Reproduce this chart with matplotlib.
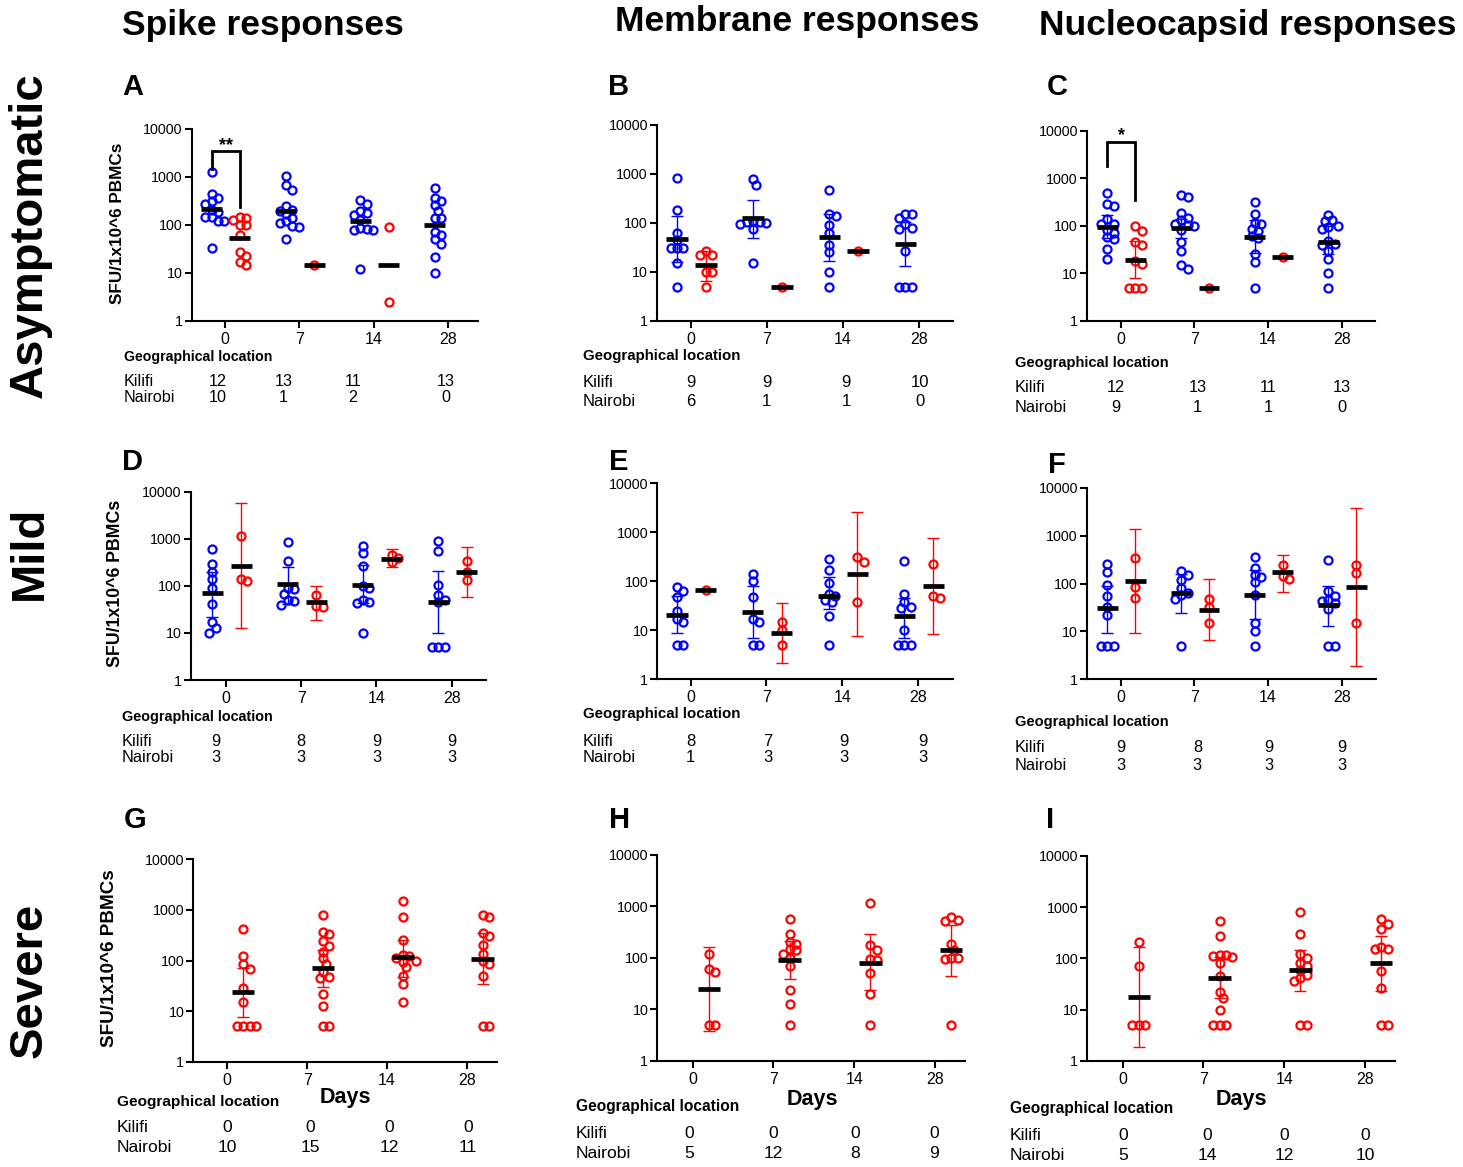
import numpy as np
import matplotlib
matplotlib.use('Agg')
import matplotlib.pyplot as plt
from matplotlib.transforms import blended_transform_factory
from matplotlib.ticker import FixedLocator, FixedFormatter, NullLocator

plt.rcParams['font.family'] = ['Liberation Sans', 'DejaVu Sans']

W, H = 1463, 1167
BLUE = '#0000ff'
RED = '#ff0000'

days = ['0', '7', '14', '28']
ytick_vals = [1, 10, 100, 1000, 10000]
ytick_labels = ['1', '10', '100', '1000', '10000']
col_titles = ['Spike responses', 'Membrane responses', 'Nucleocapsid responses']
row_titles = ['Asymptomatic', 'Mild', 'Severe']
panel_letters = ['A', 'B', 'C', 'D', 'E', 'F', 'G', 'H', 'I']
ylabel_text = 'SFU/1x10^6 PBMCs'
N = np.nan

# ---------------- data (SFU / 1x10^6 PBMCs) ----------------
# A: Spike, asymptomatic
A_kilifi = [[1300, 440, 360, 310, 270, 210, 190, 150, 145, 120, 120, 33],
            [1050, 670, 540, 250, 210, 200, 170, 140, 120, 110, 95, 92, 52],
            [330, 270, 200, 180, 160, 125, 85, 82, 80, 80, 12],
            [580, 360, 320, 260, 195, 140, 140, 70, 63, 50, 40, 22, 10]]
A_nairobi = [[150, 140, 130, 100, 100, 62, 27, 23, 17, 15], [15], [92, 2.5], []]
A_kilifi_mean = [215, 195, 121, 100]
A_nairobi_mean = [54, 15, 15, N]
A_kilifi_err = [None, None, None, None]
A_nairobi_err = [None, None, None, None]
A_kilifi_n = [12, 13, 11, 13]
A_nairobi_n = [10, 1, 2, 0]

# B: Membrane, asymptomatic
B_kilifi = [[820, 180, 62, 45, 30, 30, 30, 15, 5],
            [800, 600, 110, 105, 105, 100, 95, 75, 15],
            [480, 155, 135, 90, 62, 35, 25, 10, 5],
            [155, 155, 125, 95, 78, 75, 27, 5, 5, 5]]
B_nairobi = [[27, 22, 22, 10, 10, 5], [5], [27], []]
B_kilifi_mean = [47, 124, 52, 37]
B_nairobi_mean = [13.7, 5, 27, N]
B_kilifi_err = [(16, 138), (50, 300), (17, 152), (13, 106)]
B_nairobi_err = [(6.6, 27), None, None, None]
B_kilifi_n = [9, 9, 9, 10]
B_nairobi_n = [6, 1, 1, 0]

# C: Nucleocapsid, asymptomatic
C_kilifi = [[500, 290, 260, 140, 110, 110, 80, 72, 57, 52, 32, 20],
            [450, 400, 185, 145, 130, 110, 105, 100, 80, 45, 30, 15, 12.5],
            [320, 180, 115, 110, 85, 78, 60, 55, 25, 17, 5],
            [170, 130, 125, 100, 95, 85, 48, 42, 40, 30, 20, 10, 5]]
C_nairobi = [[100, 78, 45, 40, 18, 16, 5, 5, 5], [5], [22], []]
C_kilifi_mean = [96, 88, 59, 46]
C_nairobi_mean = [19, 5, 22, N]
C_kilifi_err = [(55, 166), (55, 140), (27, 133), (25, 99)]
C_nairobi_err = [(7.9, 48), None, None, None]
C_kilifi_n = [12, 13, 11, 13]
C_nairobi_n = [9, 1, 1, 0]

# D: Spike, mild
D_kilifi = [[600, 290, 200, 140, 88, 42, 17, 12.5, 10],
            [870, 340, 90, 85, 68, 50, 48, 40],
            [700, 490, 260, 100, 90, 50, 45, 44, 10],
            [900, 550, 105, 65, 50, 45, 5, 5, 5]]
D_nairobi = [[1150, 140, 125], [64, 37, 36], [450, 400, 325], [340, 200, 135]]
D_kilifi_mean = [69, 108, 104, 46]
D_nairobi_mean = [268, 46, 380, 200]
D_kilifi_err = [(22, 200), (42, 255), (44, 275), (10, 210)]
D_nairobi_err = [(12.5, 5800), (19, 100), (250, 600), (59, 660)]
D_kilifi_n = [9, 8, 9, 9]
D_nairobi_n = [3, 3, 3, 3]

# E: Membrane, mild
E_kilifi = [[78, 62, 47, 25, 17, 15, 5, 5],
            [140, 100, 47, 17, 15, 5, 5],
            [280, 170, 92, 55, 50, 42, 37, 20, 5],
            [260, 55, 38, 30, 29, 10, 5, 5, 5]]
E_nairobi = [[67], [15, 10, 5], [310, 250, 37], [225, 49, 45]]
E_kilifi_mean = [21, 24, 50, 20]
E_nairobi_mean = [67, 9, 141, 80]
E_kilifi_err = [(8.7, 50), (6.9, 81), (27, 120), (7.1, 46)]
E_nairobi_err = [None, (2.2, 36), (7.8, 2550), (8.3, 755)]
E_kilifi_n = [8, 7, 9, 9]
E_nairobi_n = [1, 3, 3, 3]

# F: Nucleocapsid, mild
F_kilifi = [[250, 170, 95, 55, 33, 22, 5, 5, 5],
            [185, 150, 120, 80, 63, 58, 47, 5],
            [360, 215, 150, 140, 105, 58, 15, 10, 5],
            [310, 70, 55, 45, 43, 40, 30, 5, 5]]
F_nairobi = [[340, 83, 50], [47, 32, 15], [245, 145, 125], [245, 165, 15]]
F_kilifi_mean = [30.6, 63, 58, 35]
F_nairobi_mean = [114, 28, 171, 84]
F_kilifi_err = [(9.2, 90), (24, 158), (18.5, 195), (13, 90)]
F_nairobi_err = [(9.2, 1350), (6.7, 124), (66, 400), (1.93, 3700)]
F_kilifi_n = [9, 8, 9, 9]
F_nairobi_n = [3, 3, 3, 3]

# G: Spike, severe
G_kilifi = [[], [], [], []]
G_nairobi = [[415, 120, 85, 68, 28, 15, 5, 5, 5, 5],
             [800, 370, 340, 240, 195, 150, 110, 85, 58, 48, 45, 22, 12.5, 5, 5],
             [1500, 740, 250, 130, 120, 110, 100, 95, 73, 50, 34, 15],
             [800, 740, 350, 310, 200, 135, 100, 85, 50, 5, 5]]
G_kilifi_mean = [N, N, N, N]
G_nairobi_mean = [24, 72, 116, 107]
G_kilifi_err = [None, None, None, None]
G_nairobi_err = [(7.5, 70), (30, 162), (48, 260), (34, 350)]
G_kilifi_n = [0, 0, 0, 0]
G_nairobi_n = [10, 15, 12, 11]

# H: Membrane, severe
H_kilifi = [[], [], [], []]
H_nairobi = [[117, 62, 52, 5, 5],
             [580, 290, 200, 190, 150, 140, 120, 100, 70, 24, 12.5, 5],
             [1180, 180, 145, 95, 90, 50, 20, 5],
             [620, 550, 510, 185, 140, 100, 100, 95, 5]]
H_kilifi_mean = [N, N, N, N]
H_nairobi_mean = [24.8, 90, 78, 142]
H_kilifi_err = [None, None, None, None]
H_nairobi_err = [(3.8, 160), (38, 212), (24, 290), (44, 440)]
H_kilifi_n = [0, 0, 0, 0]
H_nairobi_n = [5, 12, 8, 9]

# I: Nucleocapsid, severe
I_kilifi = [[], [], [], []]
I_nairobi = [[210, 72, 5, 5, 5],
             [540, 270, 115, 115, 110, 105, 80, 45, 22, 17, 10, 5, 5, 5],
             [810, 300, 120, 100, 80, 70, 60, 47, 41, 37, 5, 5],
             [590, 470, 370, 165, 150, 150, 57, 26, 5, 5]]
I_kilifi_mean = [N, N, N, N]
I_nairobi_mean = [17.9, 41, 59, 82]
I_kilifi_err = [None, None, None, None]
I_nairobi_err = [(1.9, 170), (16.6, 108), (23, 145), (23, 275)]
I_kilifi_n = [0, 0, 0, 0]
I_nairobi_n = [5, 14, 12, 10]

# significance brackets: (label, bracket top, left leg end, right leg end, label y)
A_sig = ('**', 3400, 1500, 240, 4600)
C_sig = ('*', 5700, 1800, 350, 7800)

# ---------------- layout (pixels) ----------------
# box: spine x, tick0 x, tick3 x, right end x, top y (10000), bottom y (1)
panels = [
    dict(letter='A', kil=A_kilifi, nai=A_nairobi, km=A_kilifi_mean, nm=A_nairobi_mean,
         ke=A_kilifi_err, ne=A_nairobi_err, kn=A_kilifi_n, nn=A_nairobi_n, sig=A_sig,
         box=(191.7, 225, 448, 478, 129, 321), let=(133, 87),
         geo=(124, 357, 381, 398), numoff=[-7, -16, -21, -2], fs=11.6, gfs=10.2),
    dict(letter='B', kil=B_kilifi, nai=B_nairobi, km=B_kilifi_mean, nm=B_nairobi_mean,
         ke=B_kilifi_err, ne=B_nairobi_err, kn=B_kilifi_n, nn=B_nairobi_n, sig=None,
         box=(657, 690.7, 919, 953, 125, 320.7), let=(619, 87),
         geo=(583, 356, 382, 401), numoff=[0, 0, 3, 1], fs=12.0, gfs=10.8),
    dict(letter='C', kil=C_kilifi, nai=C_nairobi, km=C_kilifi_mean, nm=C_nairobi_mean,
         ke=C_kilifi_err, ne=C_nairobi_err, kn=C_kilifi_n, nn=C_nairobi_n, sig=C_sig,
         box=(1087, 1120.7, 1341.7, 1375, 130.7, 321), let=(1057, 87),
         geo=(1015, 363, 388, 407), numoff=[-5, 3, 0, 0], fs=11.8, gfs=10.5),
    dict(letter='D', kil=D_kilifi, nai=D_nairobi, km=D_kilifi_mean, nm=D_nairobi_mean,
         ke=D_kilifi_err, ne=D_nairobi_err, kn=D_kilifi_n, nn=D_nairobi_n, sig=None,
         box=(190.7, 226, 451.7, 486, 491.7, 680), let=(133, 462),
         geo=(122, 717, 741, 758), numoff=[-10, 0, 0, 0], fs=11.8, gfs=10.4),
    dict(letter='E', kil=E_kilifi, nai=E_nairobi, km=E_kilifi_mean, nm=E_nairobi_mean,
         ke=E_kilifi_err, ne=E_nairobi_err, kn=E_kilifi_n, nn=E_nairobi_n, sig=None,
         box=(657.3, 690.7, 918, 953, 483.3, 679.3), let=(619, 462),
         geo=(583, 714, 741, 758), numoff=[0, 1, 2, 5], fs=12.0, gfs=10.8),
    dict(letter='F', kil=F_kilifi, nai=F_nairobi, km=F_kilifi_mean, nm=F_nairobi_mean,
         ke=F_kilifi_err, ne=F_nairobi_err, kn=F_kilifi_n, nn=F_nairobi_n, sig=None,
         box=(1087, 1120.7, 1341.7, 1376, 487.7, 679.3), let=(1057, 465),
         geo=(1015, 722, 747, 765), numoff=[0, 3, 1, 0], fs=11.8, gfs=10.5),
    dict(letter='G', kil=G_kilifi, nai=G_nairobi, km=G_kilifi_mean, nm=G_nairobi_mean,
         ke=G_kilifi_err, ne=G_nairobi_err, kn=G_kilifi_n, nn=G_nairobi_n, sig=None,
         box=(193.3, 227.3, 466.7, 497, 859.3, 1061.7), let=(135, 820),
         geo=(117, 1102, 1128, 1147), numoff=[0, 3, 2, 1], fs=12.6, gfs=11.1),
    dict(letter='H', kil=H_kilifi, nai=H_nairobi, km=H_kilifi_mean, nm=H_nairobi_mean,
         ke=H_kilifi_err, ne=H_nairobi_err, kn=H_kilifi_n, nn=H_nairobi_n, sig=None,
         box=(657.3, 692.7, 935, 965, 855, 1060.7), let=(620, 820),
         geo=(576, 1107, 1134, 1153), numoff=[-4, 0, 1, -1], fs=12.6, gfs=11.2),
    dict(letter='I', kil=I_kilifi, nai=I_nairobi, km=I_kilifi_mean, nm=I_nairobi_mean,
         ke=I_kilifi_err, ne=I_nairobi_err, kn=I_kilifi_n, nn=I_nairobi_n, sig=None,
         box=(1087.3, 1122.7, 1365, 1395, 855.7, 1061), let=(1050, 820),
         geo=(1010, 1109, 1136, 1155), numoff=[0, 4, 0, 0], fs=12.6, gfs=11.2),
]

fig = plt.figure(figsize=(W / 100, H / 100), dpi=100)
fig.patch.set_facecolor('white')


def fx(x):
    return x / W


def fy(y):
    return 1 - y / H


def swarm_x(ax, xc, vals, dmin=6.4, step=3.2):
    trans = ax.transData
    inv = trans.inverted()
    vals = np.asarray(vals, dtype=float)
    res = np.zeros(len(vals))
    if len(vals) == 0:
        return res
    x0 = trans.transform((xc, 1.0))[0]
    placed = []
    cands = [0.0]
    for j in range(1, 30):
        cands += [j * step, -j * step]
    for i in np.argsort(-vals, kind='stable'):
        ypx = trans.transform((xc, vals[i]))[1]
        chosen = cands[-1]
        for c in cands:
            if all((c - px) ** 2 + (ypx - py) ** 2 >= dmin ** 2 for px, py in placed):
                chosen = c
                break
        placed.append((chosen, ypx))
        res[i] = inv.transform((x0 + chosen, ypx))[0]
    return res


OFF_K, OFF_N = -0.18, 0.20
MEAN_HW = 0.14

for idx, p in enumerate(panels):
    L, T0, T3, R, TOP, BOT = p['box']
    ax = fig.add_axes([fx(L), fy(BOT), (R - L) / W, (BOT - TOP) / H])
    s = (T3 - T0) / 3.0
    ax.set_xlim((L - T0) / s, (R - T0) / s)
    ax.set_yscale('log')
    ax.set_ylim(1, 10000)
    ax.yaxis.set_major_locator(FixedLocator(ytick_vals))
    ax.yaxis.set_major_formatter(FixedFormatter(ytick_labels))
    ax.yaxis.set_minor_locator(NullLocator())
    ax.set_xticks(range(4))
    ax.set_xticklabels(days)
    ax.xaxis.set_minor_locator(NullLocator())
    for sp in ['top', 'right']:
        ax.spines[sp].set_visible(False)
    for sp in ['left', 'bottom']:
        ax.spines[sp].set_linewidth(1.5)
    ax.tick_params(axis='y', length=5, width=1.5, pad=1.5, labelsize=10.3)
    ax.tick_params(axis='x', length=5, width=1.5, pad=3, labelsize=11.5)
    ax.patch.set_alpha(0)

    groups = [(p['kil'], p['km'], p['ke'], BLUE, OFF_K),
              (p['nai'], p['nm'], p['ne'], RED, OFF_N)]
    for vals_list, means, errs, color, off in groups:
        for d in range(4):
            xc = d + off
            vals = vals_list[d]
            if len(vals) > 0:
                xs = swarm_x(ax, xc, vals)
                ax.plot(xs, vals, 'o', ms=5.8, mfc='none', mec=color, mew=1.6,
                        zorder=3, clip_on=False)
            e = errs[d]
            m = means[d]
            if e is not None and not np.isnan(m):
                ax.errorbar([xc], [m], yerr=[[m - e[0]], [e[1] - m]], fmt='none',
                            ecolor=color, elinewidth=1.0, capsize=4.5, capthick=1.0,
                            zorder=2)
            if not np.isnan(m):
                ax.hlines(m, xc - MEAN_HW, xc + MEAN_HW, colors='black', lw=3.4,
                          zorder=4)

    if p['sig'] is not None:
        lab, top, yl, yr, yt = p['sig']
        ax.plot([OFF_K, OFF_K, OFF_N, OFF_N], [yl, top, top, yr], color='black',
                lw=2.0, solid_joinstyle='miter', zorder=5, clip_on=False)
        ax.text((OFF_K + OFF_N) / 2, yt, lab, ha='center', va='center',
                fontsize=13, fontweight='bold', zorder=5)

    # panel letter
    lx, ly = p['let']
    fig.text(fx(lx), fy(ly), p['letter'], ha='center', va='center',
             fontsize=21, fontweight='bold')

    # geographical location table
    gx, gy, ky, ny = p['geo']
    fig.text(fx(gx), fy(gy), 'Geographical location', ha='left', va='center',
             fontsize=p['gfs'], fontweight='bold')
    fig.text(fx(gx), fy(ky), 'Kilifi', ha='left', va='center', fontsize=p['fs'])
    fig.text(fx(gx), fy(ny), 'Nairobi', ha='left', va='center', fontsize=p['fs'])
    tr = blended_transform_factory(ax.transData, fig.transFigure)
    for d in range(4):
        xo = p['numoff'][d] / s
        ax.text(d + xo, fy(ky), str(p['kn'][d]), transform=tr, ha='center',
                va='center', fontsize=p['fs'])
        ax.text(d + xo, fy(ny), str(p['nn'][d]), transform=tr, ha='center',
                va='center', fontsize=p['fs'])

# column titles
for (x, y), t in zip([(263, 25), (797, 22), (1248, 25)], col_titles):
    fig.text(fx(x), fy(y), t, ha='center', va='center', fontsize=25.5,
             fontweight='bold')

# row titles
for (x, y), t in zip([(30, 235), (30, 553), (30, 980)], row_titles):
    fig.text(fx(x), fy(y), t, ha='center', va='center', fontsize=34,
             fontweight='bold', rotation=90)

# y labels
for (x, y), fs in zip([(117, 223), (115, 583), (110, 958)], [12.3, 12.8, 13.6]):
    fig.text(fx(x), fy(y), ylabel_text, ha='center', va='center', fontsize=fs,
             fontweight='bold', rotation=90)

# Days labels
for x, y in [(345, 1098), (812, 1099), (1241, 1099)]:
    fig.text(fx(x), fy(y), 'Days', ha='center', va='center', fontsize=15.5,
             fontweight='bold')

fig.savefig('out.png', dpi=100, facecolor='white')
